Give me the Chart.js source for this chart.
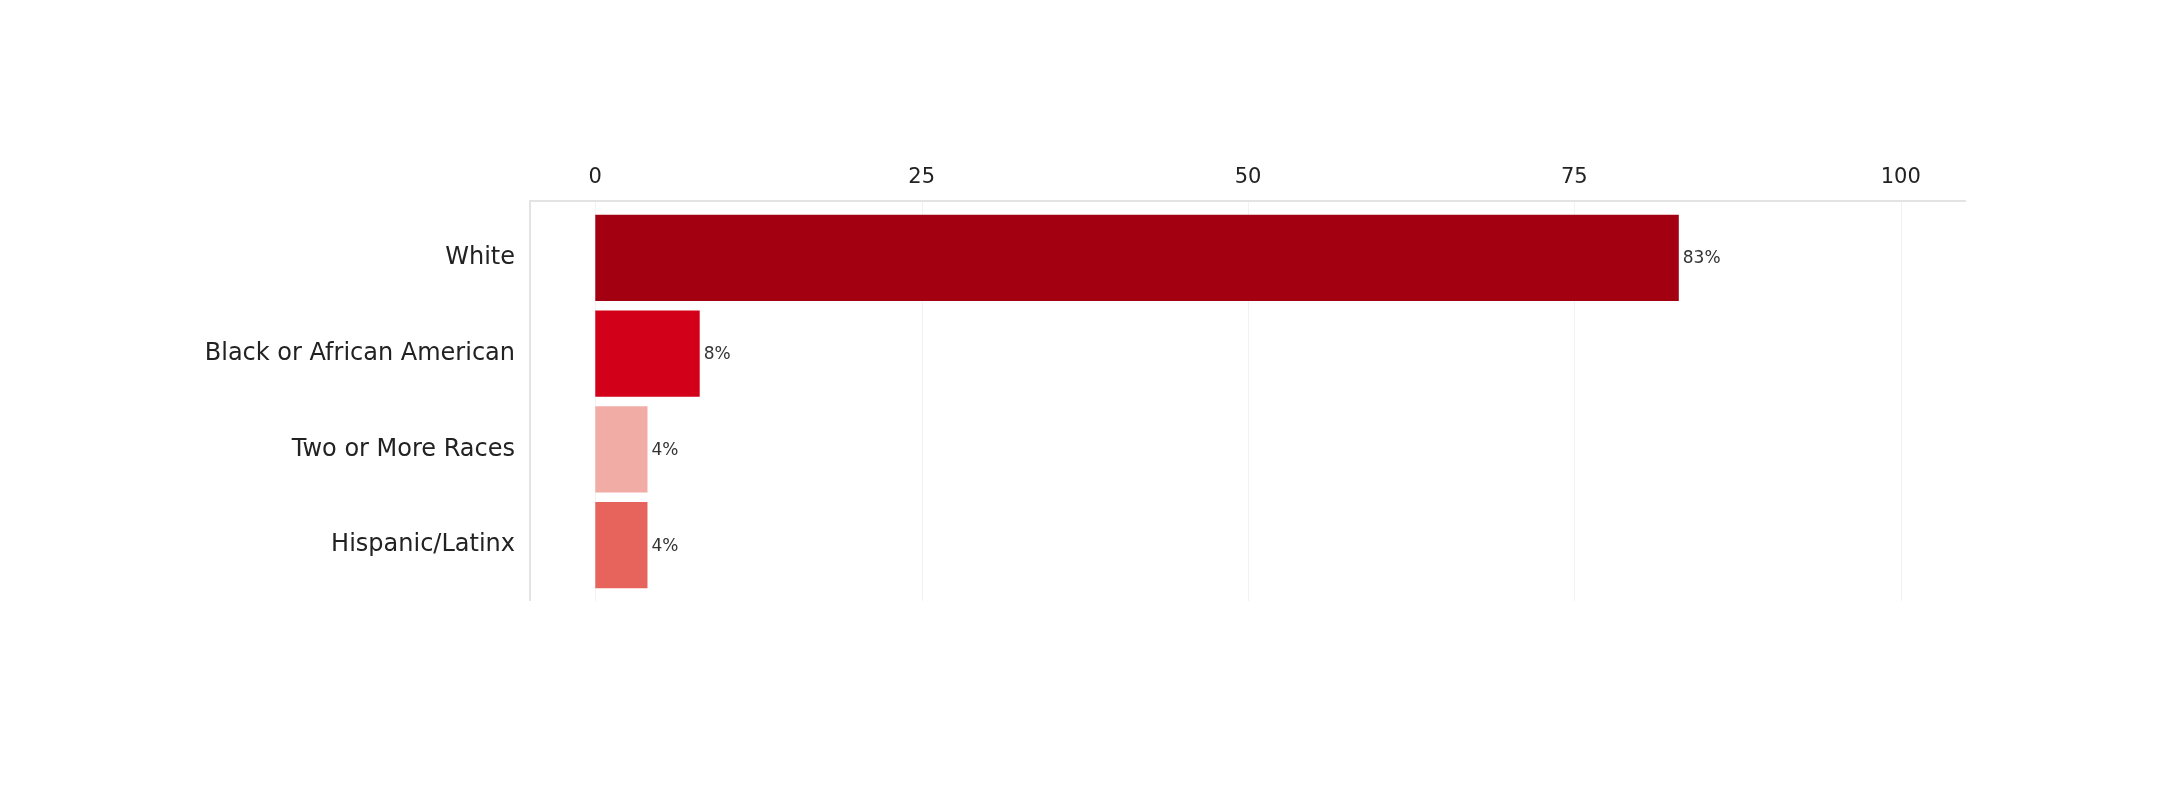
<!DOCTYPE html>
<html>
<head>
<meta charset="utf-8">
<script src="https://cdn.jsdelivr.net/npm/chart.js@4.4.0/dist/chart.umd.min.js"></script>
<style>
  html, body { margin: 0; padding: 0; background: #fff; }
  #wrap { width: 2165px; height: 800px; }
</style>
</head>
<body>
<div id="wrap"><canvas id="raceChart"></canvas></div>
<script>
// Race / ethnicity share
const categories = ["White", "Black or African American", "Two or More Races", "Hispanic/Latinx"];
const shares = [83, 8, 4, 4];
const barColors = ["#a30012", "#d20019", "#f2aca6", "#e6645c"];
const xTickValues = [0, 25, 50, 75, 100];

const FONT = "'DejaVu Sans', sans-serif";

// grid + frame lines run a little past the bar area, like the original
const frame = {
  id: "frame",
  beforeDatasetsDraw(chart) {
    const { ctx, chartArea } = chart;
    const x = chart.scales.x;
    const top = chartArea.top - 9;
    const bottom = chartArea.bottom + 8;
    ctx.save();
    ctx.lineWidth = 1;
    ctx.strokeStyle = "#f2f2f2";
    x.ticks.forEach((t) => {
      const px = Math.round(x.getPixelForValue(t.value)) + 0.5;
      ctx.beginPath();
      ctx.moveTo(px, top);
      ctx.lineTo(px, bottom);
      ctx.stroke();
    });
    ctx.lineWidth = 2;
    ctx.strokeStyle = "#e3e3e3";
    ctx.beginPath();
    ctx.moveTo(chartArea.left, bottom);
    ctx.lineTo(chartArea.left, top);
    ctx.lineTo(chartArea.right, top);
    ctx.stroke();
    ctx.restore();
  },
};

// value labels at the end of each bar
const barLabels = {
  id: "barLabels",
  afterDatasetsDraw(chart) {
    const ctx = chart.ctx;
    const meta = chart.getDatasetMeta(0);
    ctx.save();
    ctx.font = "17px " + FONT;
    ctx.fillStyle = "#333";
    ctx.textAlign = "left";
    ctx.textBaseline = "middle";
    meta.data.forEach((bar, i) => {
      ctx.fillText(shares[i] + "%", bar.x + 4, bar.y + 1);
    });
    ctx.restore();
  },
};

new Chart(document.getElementById("raceChart"), {
  type: "bar",
  data: {
    labels: categories,
    datasets: [
      {
        data: shares,
        backgroundColor: barColors,
        borderWidth: 0,
        barPercentage: 0.9,
        categoryPercentage: 1,
      },
    ],
  },
  options: {
    indexAxis: "y",
    responsive: true,
    maintainAspectRatio: false,
    devicePixelRatio: 1,
    animation: false,
    layout: { padding: { top: 150, right: 199, bottom: 207, left: 0 } },
    plugins: { legend: { display: false }, tooltip: { enabled: false } },
    scales: {
      x: {
        position: "top",
        min: -5,
        max: 105,
        afterBuildTicks: (s) => { s.ticks = xTickValues.map((v) => ({ value: v })); },
        afterFit: (s) => { s.height = 60; },
        ticks: { color: "#222", font: { family: FONT, size: 21 }, padding: 20 },
        grid: { display: false, drawTicks: false },
        border: { display: false },
      },
      y: {
        afterFit: (s) => { s.width = 530; },
        ticks: { color: "#222", font: { family: FONT, size: 24 }, padding: 15 },
        grid: { display: false, drawTicks: false },
        border: { display: false },
      },
    },
  },
  plugins: [frame, barLabels],
});
</script>
</body>
</html>
